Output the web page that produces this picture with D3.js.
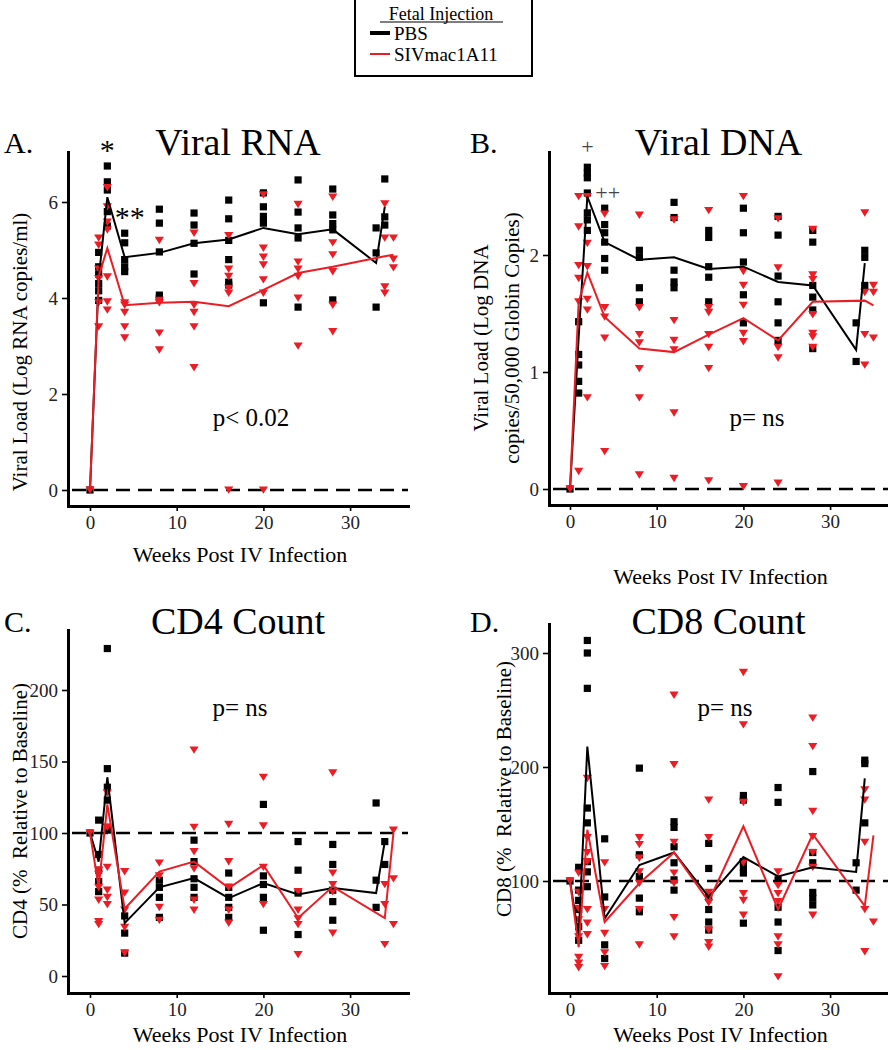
<!DOCTYPE html>
<html><head><meta charset="utf-8">
<script src="https://cdn.jsdelivr.net/npm/d3@7"></script>
<style>
body{margin:0;background:#fff}
svg{display:block}
text{font-family:"Liberation Serif","Times New Roman",serif;white-space:pre}
</style>
</head><body>
<svg id="c" width="888" height="1050"></svg>
<script>
// ---------- DATA ----------
const xTicks = [0, 10, 20, 30];
const rnaTicks = [0, 2, 4, 6];
const dnaTicks = [0, 1, 2];
const cd4Ticks = [0, 50, 100, 150, 200];
const cd8Ticks = [100, 200, 300];
const seriesNames = ["PBS", "SIVmac1A11"];

// [week, [values...]]
const rnaPBS = [[0,[0]],[1,[4.95,4.65,4.5,4.3,4.15,3.95]],[2,[6.75,6.42,6.25,5.8,5.5]],[4,[5.35,5.15,4.8,4.65,4.55]],
  [8,[5.85,5.56,4.96,4.06,4.0]],[12,[5.77,5.52,5.14,4.5]],[16,[6.04,5.65,5.2,4.8,4.33,4.27]],[20,[6.19,5.9,5.7,5.56,3.9]],
  [24,[6.46,5.79,5.46,5.25,3.81]],[28,[6.27,5.73,5.55,5.42,3.96]],[33,[5.46,4.94,3.81]],[34,[6.48,5.69,5.52]]];
const rnaPBSMean = [[0,0],[1,4.4],[2,6.1],[4,4.85],[8,4.94],[12,5.14],[16,5.22],[20,5.46],[24,5.33],[28,5.43],[33,4.73],[34,5.9]];
const rnaSIV = [[0,[0]],[1,[5.25,5.1,4.6,4.4,3.9,3.4]],[2,[6.3,5.9,5.58,5.42,4.44,3.92,3.75]],[4,[3.9,3.85,3.7,3.4,3.17]],
  [8,[5.2,3.95,3.9,3.27,2.92]],[12,[5.35,4.3,3.85,3.7,3.4,2.55]],[16,[5.3,4.6,4.45,4.2,4.1,0]],[20,[6.15,5.04,4.85,4.69,4.38,4.1,0]],
  [24,[5.95,4.75,4.6,4.45,4.0,3.0]],[28,[6.1,5.15,4.9,4.55,3.85,3.3]],[34,[5.96,5.25,4.23,4.1]],[35,[5.25,4.81,4.63]]];
const rnaSIVMean = [[0,0],[1,4.45],[2,5.04],[4,3.85],[8,3.9],[12,3.92],[16,3.83],[20,4.17],[24,4.52],[28,4.65],[34,4.87],[35,4.9]];

const dnaPBS = [[0,[0]],[1,[1.43,1.15,1.06,0.92,0.82]],[2,[2.75,2.7,2.66,2.53,2.36,2.3,2.21]],[4,[2.4,2.26,2.19,2.11,1.97,1.87]],
  [8,[2.04,1.98,1.72,1.6]],[12,[2.45,2.32,1.87,1.77,1.72]],[16,[2.21,2.15,1.9,1.81,1.6]],[20,[2.4,2.19,1.94,1.66,1.42]],
  [24,[2.33,2.17,1.82,1.6,1.42,1.27]],[28,[2.21,2.11,1.74,1.64,1.53,1.2]],[33,[1.42,1.09]],[34,[2.04,1.98,1.74]]];
const dnaPBSMean = [[0,0],[1,1.3],[2,2.5],[4,2.11],[8,1.96],[12,1.98],[16,1.88],[20,1.9],[24,1.77],[28,1.74],[33,1.19],[34,1.93]];
const dnaSIV = [[0,[0]],[1,[2.5,2.24,1.91,1.8,1.6,0.15]],[2,[2.5,2.1,1.9,1.62,1.53,0.78]],[4,[2.35,1.55,1.47,1.29,0.32]],
  [8,[2.34,1.55,1.32,1.25,1.03,0.78,0.12]],[12,[2.3,1.44,1.27,1.19,0.65,0.09]],[16,[2.38,1.55,1.51,1.32,1.21,1.03,0.07]],
  [20,[2.5,1.86,1.74,1.57,1.33,1.26,0.02]],[24,[2.31,1.89,1.21,1.12,0.05]],[28,[2.22,1.83,1.79,1.49,1.33,1.3,1.21]],
  [34,[2.36,1.68,1.32,1.06]],[35,[1.74,1.68,1.29]]];
const dnaSIVMean = [[0,0],[1,1.6],[2,1.85],[4,1.47],[8,1.2],[12,1.17],[16,1.32],[20,1.46],[24,1.27],[28,1.6],[34,1.61],[35,1.57]];

const cd4PBS = [[0,[100]],[1,[109,85,74,66,59]],[2,[229,145,132,123,104,102]],[4,[42,30,16]],[8,[67,62,55,41]],
  [12,[95,80,68,62,55]],[16,[72,62,55,48,41]],[20,[120,70,64,55,32]],[24,[94,74,58,29]],[28,[92,78,60,52,39]],
  [33,[121,67,48]],[34,[94,78]]];
const cd4PBSMean = [[0,100],[1,80],[2,139],[4,37],[8,62],[12,68.5],[16,54.5],[20,65],[24,57],[28,61.5],[33,58],[34,94]];
const cd4SIV = [[0,[100]],[1,[74,71,62,53,38,36]],[2,[128,104,76,60,55,50]],[4,[73,58,46,34,16]],[8,[79,70,48,39]],
  [12,[158,104,87,75,53,46]],[16,[106,80,62,46,37]],[20,[139,105,76,50]],[24,[59,46,40,36,15]],[28,[142,72,64,59,30]],
  [34,[64,50,22]],[35,[102,68,36]]];
const cd4SIVMean = [[0,100],[1,62],[2,120],[4,47],[8,73],[12,80],[16,61.5],[20,77.5],[24,40.5],[28,62.5],[34,40.5],[35,100]];

const cd8PBS = [[0,[100]],[1,[112,92,83,75,60,48]],[2,[311,300,269,164,151,117,108,95]],[4,[137,86,44,32]],
  [8,[199,123,104,85,73]],[12,[152,147,130,116,101,92]],[16,[133,111,86,75,64,57]],[20,[175,171,117,112,107,63]],
  [24,[182,169,101,77,64,39]],[28,[196,125,116,90,85,79]],[33,[116,92]],[34,[206,203,151]]];
const cd8PBSMean = [[0,100],[1,51],[2,218],[4,67],[8,114],[12,125],[16,86],[20,121],[24,104],[28,112],[33,108],[34,190]];
const cd8SIV = [[0,[100]],[1,[107,90,76,66,51,33,28,24]],[2,[190,138,125,117,75,63,53]],[4,[116,75,54,37,25]],
  [8,[138,132,120,108,98,75,44]],[12,[263,202,134,107,98,68,51]],[16,[171,138,90,81,57,46,42]],
  [20,[283,237,169,116,89,83,70]],[24,[108,96,89,82,51,44,16]],[28,[243,218,161,139,125,112,70]],
  [34,[180,171,134,75,38]],[35,[64]]];
const cd8SIVMean = [[0,100],[1,42],[2,145],[4,64],[8,98],[12,125],[16,82],[20,148],[24,75],[28,141],[34,78],[35,140]];

// ---------- DRAWING ----------
const svg = d3.select("#c");
const RED = "#ec1c24";
const tri = "M-4.6,-3.6L4.6,-3.6L0,3.8Z";

function panel(c){
  const x = d3.scaleLinear().domain(c.xd).range([c.l, c.r]);
  const y = d3.scaleLinear().domain(c.yd).range([c.b, c.t]);
  const g = svg.append("g");

  g.append("line").attr("x1", c.l + 4).attr("x2", c.r).attr("y1", y(c.ref)).attr("y2", y(c.ref))
    .attr("stroke", "#000").attr("stroke-width", 2.4).attr("stroke-dasharray", "14,8");

  const ax = g.append("g").attr("transform", `translate(0,${c.b})`)
    .call(d3.axisBottom(x).tickValues(xTicks).tickFormat(d3.format("d")).tickSize(5).tickPadding(5).tickSizeOuter(0));
  const ay = g.append("g").attr("transform", `translate(${c.l},0)`)
    .call(d3.axisLeft(y).tickValues(c.yt).tickFormat(d3.format("d")).tickSize(6).tickPadding(4).tickSizeOuter(0));
  [ax, ay].forEach(a => {
    a.select(".domain").attr("stroke-width", 3).attr("stroke-linecap", "square");
    a.selectAll(".tick line").attr("stroke-width", 1.6);
    a.selectAll(".tick text").attr("font-size", 19).attr("fill", "#222")
      .attr("font-family", '"Liberation Serif",serif');
  });

  const flat = arr => arr.flatMap(([w, vs]) => vs.map(v => [w, v]));
  g.append("g").selectAll("rect").data(flat(c.pbs)).join("rect")
    .attr("x", d => x(d[0]) - 3.6).attr("y", d => y(d[1]) - 3.6)
    .attr("width", 7.2).attr("height", 7.2).attr("fill", "#000");
  g.append("g").selectAll("path").data(flat(c.siv)).join("path")
    .attr("d", tri).attr("transform", d => `translate(${x(d[0])},${y(d[1])})`).attr("fill", RED);

  const line = d3.line().x(d => x(d[0])).y(d => y(d[1]));
  g.append("path").datum(c.pbsMean).attr("d", line).attr("fill", "none").attr("stroke", "#000").attr("stroke-width", 2);
  g.append("path").datum(c.sivMean).attr("d", line).attr("fill", "none").attr("stroke", RED).attr("stroke-width", 2);

  g.append("text").attr("x", (c.l + c.r) / 2).attr("y", c.titleY).attr("text-anchor", "middle")
    .attr("font-size", 38).text(c.title);
  g.append("text").attr("x", c.letterX).attr("y", c.titleY - 2).attr("font-size", 30).text(c.letter);
  g.append("text").attr("x", (c.l + c.r) / 2 + 2).attr("y", c.xlabY).attr("text-anchor", "middle")
    .attr("font-size", 22).text("Weeks Post IV Infection");
  c.ylab.forEach((t, i) => {
    g.append("text").attr("transform", `translate(${c.ylabX[i]},${c.ylabC}) rotate(-90)`)
      .attr("text-anchor", "middle").attr("font-size", 21).text(t);
  });
  g.append("text").attr("x", c.pX).attr("y", c.pY).attr("text-anchor", "middle").attr("font-size", 25).text(c.p);
  return {x, y, g};
}

const A = panel({l: 68, r: 408, t: 152, b: 506, xd: [-22/8.67, 318/8.67], yd: [-16/48, 338/48], yt: rnaTicks, ref: 0,
  pbs: rnaPBS, siv: rnaSIV, pbsMean: rnaPBSMean, sivMean: rnaSIVMean,
  title: "Viral RNA", titleY: 155, letter: "A.", letterX: 4, xlabY: 562,
  ylab: ["Viral Load (Log RNA copies/ml)"], ylabX: [27], ylabC: 352, p: "p< 0.02", pX: 251, pY: 426});
const B = panel({l: 549, r: 888, t: 152, b: 505, xd: [-21/8.67, 318/8.67], yd: [-16/117, 337/117], yt: dnaTicks, ref: 0,
  pbs: dnaPBS, siv: dnaSIV, pbsMean: dnaPBSMean, sivMean: dnaSIVMean,
  title: "Viral DNA", titleY: 155, letter: "B.", letterX: 470, xlabY: 584,
  ylab: ["Viral Load (Log DNA", "copies/50,000 Globin Copies)"], ylabX: [488, 519], ylabC: 338, p: "p= ns", pX: 757, pY: 426});
const C = panel({l: 68, r: 408, t: 630, b: 993, xd: [-22/8.67, 318/8.67], yd: [-17/1.43, 346/1.43], yt: cd4Ticks, ref: 100,
  pbs: cd4PBS, siv: cd4SIV, pbsMean: cd4PBSMean, sivMean: cd4SIVMean,
  title: "CD4 Count", titleY: 634, letter: "C.", letterX: 4, xlabY: 1042,
  ylab: ["CD4 (%  Relative to Baseline)"], ylabX: [27], ylabC: 811, p: "p= ns", pX: 240, pY: 716});
const D = panel({l: 549, r: 888, t: 624, b: 993, xd: [-21/8.67, 318/8.67], yd: [2/1.14, 371/1.14], yt: cd8Ticks, ref: 100,
  pbs: cd8PBS, siv: cd8SIV, pbsMean: cd8PBSMean, sivMean: cd8SIVMean,
  title: "CD8 Count", titleY: 634, letter: "D.", letterX: 470, xlabY: 1042,
  ylab: ["CD8 (%  Relative to Baseline)"], ylabX: [511], ylabC: 789, p: "p= ns", pX: 725, pY: 716});

// significance marks
A.g.append("text").attr("x", A.x(2)).attr("y", 160).attr("text-anchor", "middle").attr("font-size", 30).text("*");
A.g.append("text").attr("x", A.x(4) + 5).attr("y", 227).attr("text-anchor", "middle").attr("font-size", 30).text("**");
B.g.append("text").attr("x", B.x(2)).attr("y", 154).attr("text-anchor", "middle").attr("font-size", 22).attr("fill", "#444").text("+");
B.g.append("text").attr("x", B.x(4) + 3).attr("y", 200).attr("text-anchor", "middle").attr("font-size", 22).attr("fill", "#444").text("++");

// legend
const lg = svg.append("g");
lg.append("rect").attr("x", 355).attr("y", -2).attr("width", 177).attr("height", 78)
  .attr("fill", "#fff").attr("stroke", "#000").attr("stroke-width", 2);
lg.append("text").attr("x", 441).attr("y", 20).attr("text-anchor", "middle").attr("font-size", 18).text("Fetal Injection");
lg.append("line").attr("x1", 380).attr("x2", 503).attr("y1", 22).attr("y2", 22).attr("stroke", "#000").attr("stroke-width", 1.2);
const lgCol = ["#000", RED], lgW = [4, 2];
seriesNames.forEach((n, i) => {
  const yy = 33 + i * 21;
  lg.append("line").attr("x1", 370).attr("x2", 390).attr("y1", yy).attr("y2", yy)
    .attr("stroke", lgCol[i]).attr("stroke-width", lgW[i]);
  lg.append("text").attr("x", 394).attr("y", yy + 7).attr("font-size", 19).text(n);
});
</script>
</body></html>
